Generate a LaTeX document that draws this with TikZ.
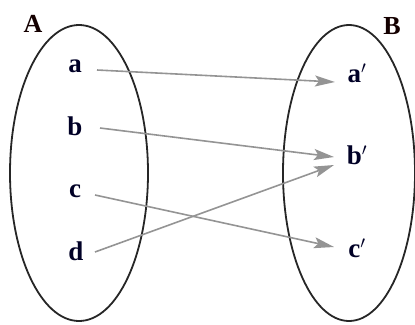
\documentclass[tikz,border=0pt]{standalone}
\usepackage{fontspec}
\setmainfont{Liberation Serif}
\usetikzlibrary{arrows.meta}
\begin{document}
\begin{tikzpicture}[x=1pt,y=-1pt,
  setellipse/.style={draw=black!85,line width=1.8pt},
  elem/.style={font=\bfseries\fontsize{27}{27}\selectfont,inner sep=0pt,text=black!85!blue},
  setname/.style={font=\bfseries\fontsize{26}{26}\selectfont,inner sep=0pt,text=black!92!red},
  maparrow/.style={draw=black!42,line width=1.6pt,-{Stealth[length=20pt,width=11pt,inset=4pt]}}]
\useasboundingbox (0,0) rectangle (415,324);
\draw[setellipse] (79,173) ellipse [x radius=69,y radius=148];
\draw[setellipse] (349,173) ellipse [x radius=66,y radius=148];
\node[setname] (A) at (33,24) {A};
\node[setname] (B) at (392,26) {B};
\node[elem] (a) at (75,66) {a};
\node[elem] (b) at (75,126) {b};
\node[elem] (c) at (75,191) {c};
\node[elem] (d) at (76,251) {d};
\node[elem] (a2) at (357,73) {a$'$};
\node[elem] (b2) at (357,155) {b$'$};
\node[elem] (c2) at (357,248) {c$'$};
\coordinate (ae) at (97,70);
\coordinate (be) at (100,128);
\coordinate (ce) at (95,195);
\coordinate (de) at (95,252);
\coordinate (at) at (335,82);
\coordinate (bt) at (334,157);
\coordinate (bt2) at (334,165);
\coordinate (ct) at (334,247);
\draw[maparrow] (ae) -- (at);
\draw[maparrow] (be) -- (bt);
\draw[maparrow] (ce) -- (ct);
\draw[maparrow] (de) -- (bt2);
\end{tikzpicture}
\end{document}
